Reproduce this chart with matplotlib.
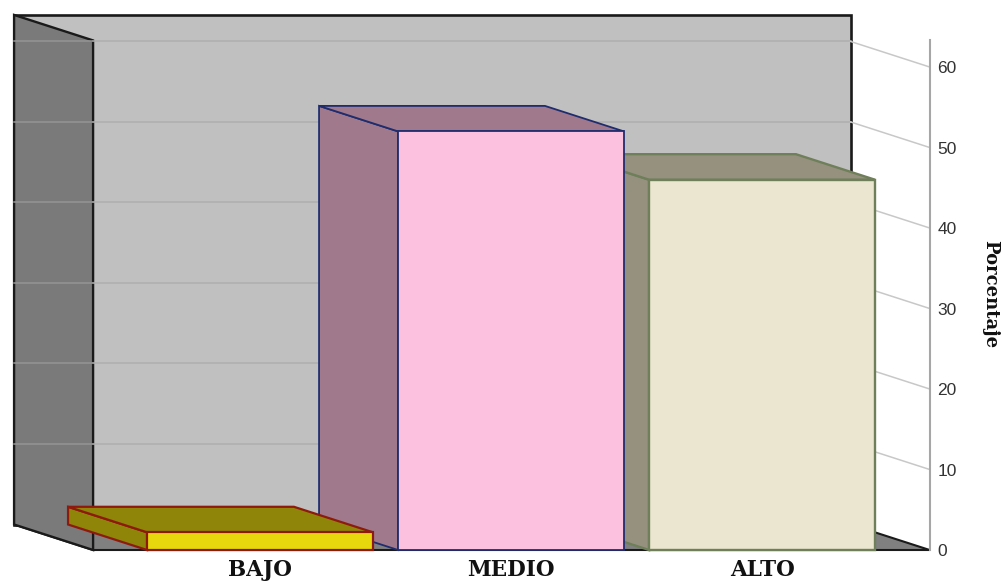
import matplotlib
matplotlib.use("Agg")
import matplotlib.pyplot as plt
from matplotlib.patches import Polygon

categories = ["BAJO", "MEDIO", "ALTO"]
percentages = [2.2, 52.0, 46.0]
tick_values = [0, 10, 20, 30, 40, 50, 60]

front_colors = ["#e6d80c", "#fdc1e0", "#ebe6d0"]
side_colors = ["#8f8508", "#a07a8c", "#96917f"]
edge_colors = ["#8e1a0e", "#1f2d6e", "#6f7f5a"]
edge_widths = [1.6, 1.3, 1.7]

W, H = 1005, 582
BAR_W = 0.9
# oblique offset of the chart depth, in category / percent units
DX = -79 / 251
DY = 25.5 / 8.05
X_LEFT = -0.665
X_RIGHT = 2.668
Y_TOP = 63.3

fig = plt.figure(figsize=(W / 100, H / 100), dpi=100)
ax = fig.add_axes([0, 0, 1, 1])
ax.set_xlim(-260 / 251, (W - 260) / 251)
ax.set_ylim(-32 / 8.05, 550 / 8.05)
ax.axis("off")


def poly(points, face, edge, lw=1.3, z=1):
    ax.add_patch(Polygon(points, closed=True, facecolor=face, edgecolor=edge,
                         linewidth=lw, joinstyle="miter", zorder=z))


# walls and floor
poly([(X_LEFT + DX, DY), (X_RIGHT + DX, DY), (X_RIGHT + DX, Y_TOP + DY), (X_LEFT + DX, Y_TOP + DY)],
     "#c0c0c0", "#1a1a1a", 1.9, 1)
poly([(X_LEFT + DX, DY), (X_LEFT, 0), (X_RIGHT, 0), (X_RIGHT + DX, DY)], "#808080", "#1a1a1a", 1.5, 2)
poly([(X_LEFT + DX, DY), (X_LEFT, 0), (X_LEFT, Y_TOP), (X_LEFT + DX, Y_TOP + DY)],
     "#7a7a7a", "#1a1a1a", 1.7, 2)

# gridlines on the walls, and the stubs running out to the value axis
for v in tick_values[1:]:
    ax.plot([X_LEFT, X_RIGHT + DX], [v + DY, v + DY], color="#aeaeae", lw=1.1, zorder=3)
    ax.plot([X_LEFT + DX, X_LEFT], [v + DY, v + DY], color="#959595", lw=1.1, zorder=3)
    ax.plot([X_RIGHT + DX, X_RIGHT], [v + DY, v], color="#c8c8c8", lw=1.1, zorder=3)

ax.plot([X_RIGHT, X_RIGHT], [0, Y_TOP], color="#a6a6a6", lw=1.5, zorder=3)

# bars, far right first so nearer ones overlap
for i in range(len(categories) - 1, -1, -1):
    pct, fc, sc, ec, lw = percentages[i], front_colors[i], side_colors[i], edge_colors[i], edge_widths[i]
    x0, x1 = i - BAR_W / 2, i + BAR_W / 2
    z = 5 + 2 * (len(categories) - i)
    poly([(x0, 0), (x0 + DX, DY), (x0 + DX, pct + DY), (x0, pct)], sc, ec, lw, z)
    poly([(x0, pct), (x0 + DX, pct + DY), (x1 + DX, pct + DY), (x1, pct)], sc, ec, lw, z)
    poly([(x0, 0), (x1, 0), (x1, pct), (x0, pct)], fc, ec, lw, z + 1)

for i, name in enumerate(categories):
    ax.text(i, -2.5, name, ha="center", va="center", family="DejaVu Serif",
            fontweight="bold", fontsize=15.5, color="#111111")

for v in tick_values:
    ax.text(X_RIGHT + 0.03, v - 0.2, str(v), ha="left", va="center",
            family="Liberation Sans", fontsize=12.5, color="#333333")

ax.text(2.908, 31.8, "Porcentaje", rotation=270, ha="center", va="center",
        family="DejaVu Serif", fontweight="bold", fontsize=13, color="#111111")

fig.savefig("out.png", dpi=100)
